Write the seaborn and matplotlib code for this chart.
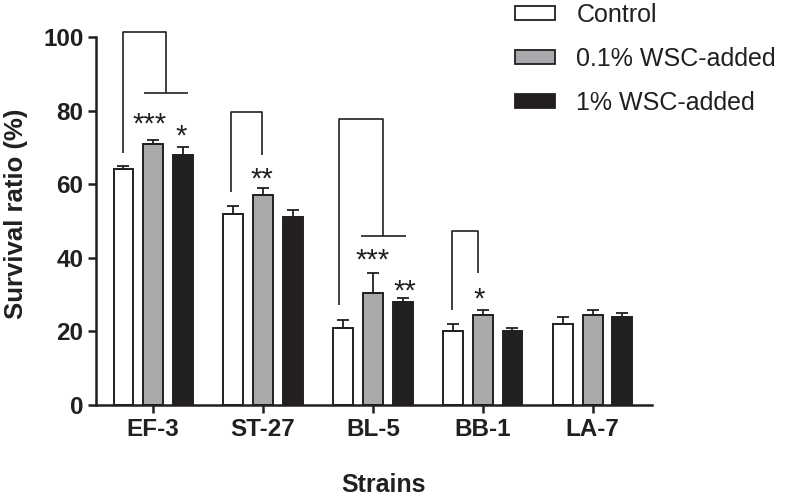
import numpy as np
import pandas as pd
import seaborn as sns
import matplotlib.pyplot as plt
from matplotlib.patches import Patch

strains = ["EF-3", "ST-27", "BL-5", "BB-1", "LA-7"]
groups = ["Control", "0.1% WSC-added", "1% WSC-added"]

control = [64, 52, 21, 20, 22]
control_err = [1, 2, 2, 2, 2]
wsc01 = [71, 57, 30.5, 24.5, 24.5]
wsc01_err = [1, 2, 5.5, 1.2, 1.2]
wsc1 = [68, 51, 28, 20, 24]
wsc1_err = [2, 2, 1, 0.8, 1]

# significance brackets: strain, left leg x, right leg x, left leg bottom, top, right leg bottom, cross bar span
brackets = [
    ("EF-3", -0.27, 0.12, 68.6, 101.4, 84.9, (-0.085, 0.32)),
    ("ST-27", -0.29, -0.01, 58, 79.6, 68, None),
    ("BL-5", -0.31, 0.094, 27.2, 77.6, 46, (-0.11, 0.30)),
    ("BB-1", -0.28, -0.04, 25.8, 47.3, 36, None),
]
stars = [
    ("EF-3", -0.03, 78, "***"),
    ("EF-3", 0.255, 74.7, "*"),
    ("ST-27", -0.01, 63, "**"),
    ("BL-5", 0.0, 41, "***"),
    ("BL-5", 0.29, 32.6, "**"),
    ("BB-1", -0.03, 30.4, "*"),
]

dark = "#231f20"
colors = ["#ffffff", "#a7a9ac", dark]

df = pd.DataFrame({
    "strain": strains * 3,
    "group": [g for g in groups for _ in strains],
    "value": control + wsc01 + wsc1,
})

sns.set_style("ticks")
plt.rcParams["font.family"] = ["Liberation Sans", "DejaVu Sans"]

fig = plt.figure(figsize=(7.88, 4.98), dpi=100)
ax = fig.add_axes([96 / 788, 1 - 405 / 498, (652 - 96) / 788, (405 - 37) / 498])

sns.barplot(data=df, x="strain", y="value", hue="group", hue_order=groups,
            palette=colors, width=0.81, gap=0.33, edgecolor=dark, linewidth=1.4,
            errorbar=None, legend=False, ax=ax)

for cont, err in zip(ax.containers, [control_err, wsc01_err, wsc1_err]):
    xs = [b.get_x() + b.get_width() / 2 for b in cont]
    hs = [b.get_height() for b in cont]
    ax.errorbar(xs, hs, yerr=[np.zeros(len(err)), err], fmt="none", ecolor=dark,
                elinewidth=1.3, capsize=4.5, capthick=1.3, zorder=3)

for s, xl, xr, yl, top, yr, span in brackets:
    c = strains.index(s)
    kw = dict(color=dark, lw=1.2, clip_on=False, solid_capstyle="butt")
    ax.plot([c + xl, c + xl, c + xr, c + xr], [yl, top, top, yr], **kw)
    if span:
        ax.plot([c + span[0], c + span[1]], [yr, yr], **kw)

for s, dx, y, txt in stars:
    ax.text(strains.index(s) + dx, y - 1.8, txt, ha="center", va="center",
            fontsize=21, color=dark)

ax.set_xlim(-0.52, 4.54)
ax.set_ylim(0, 100)
ax.set_yticks([0, 20, 40, 60, 80, 100])
sns.despine(ax=ax)
for sp in ["left", "bottom"]:
    ax.spines[sp].set_linewidth(1.8)
    ax.spines[sp].set_color(dark)
ax.tick_params(axis="both", length=6, width=1.8, color=dark, labelsize=17.5,
               labelcolor=dark, pad=3)
for lab in ax.get_xticklabels() + ax.get_yticklabels():
    lab.set_fontweight("bold")

ax.set_xlabel("Strains", fontsize=18, fontweight="bold", color=dark)
ax.set_ylabel("Survival ratio (%)", fontsize=18.5, fontweight="bold", color=dark)
ax.xaxis.set_label_coords(0.5 + 10 / 556, -68 / 368)
ax.yaxis.set_label_coords(-68 / 556, 0.5 + 7 / 368)

handles = [Patch(facecolor=c, edgecolor=dark, linewidth=1.3) for c in colors]
fig.legend(handles, groups, loc="upper left", bbox_to_anchor=(515 / 788, 1 - 3 / 498),
           frameon=False, fontsize=18, handlelength=1.6, handleheight=0.5,
           handletextpad=0.85, labelspacing=0.8, borderpad=0, borderaxespad=0,
           labelcolor=dark)

fig.savefig("out.png", dpi=100)
